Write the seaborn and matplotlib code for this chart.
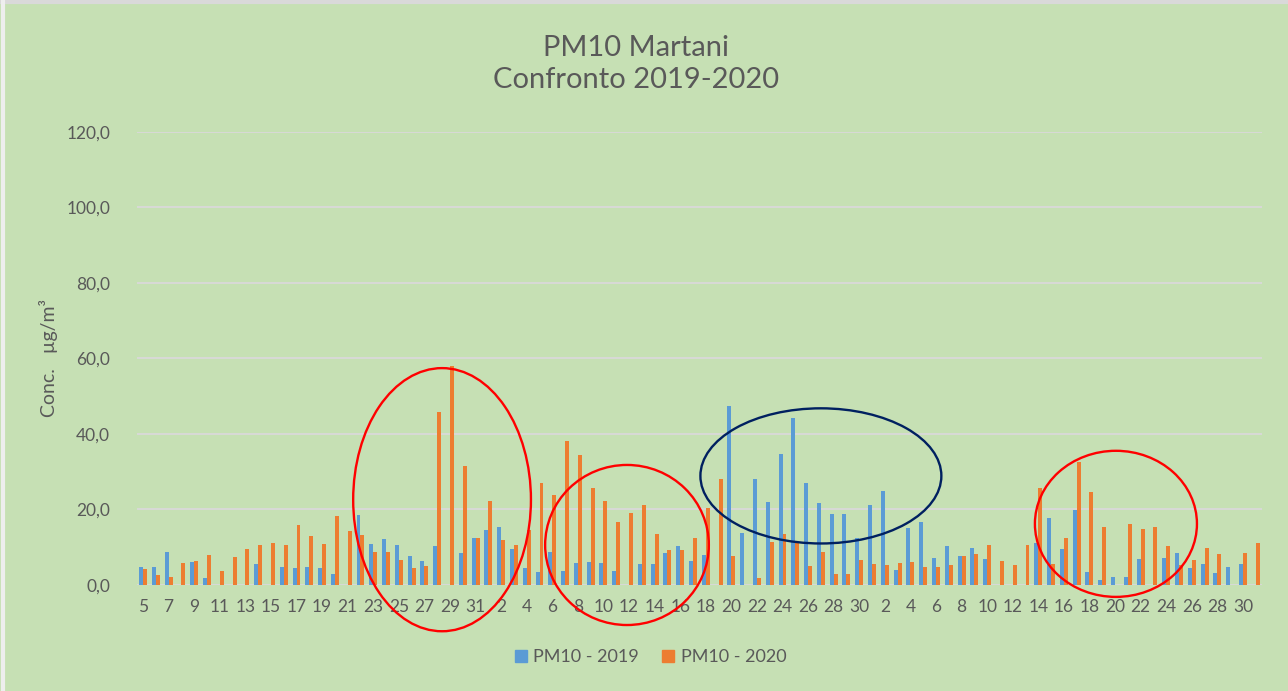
import numpy as np
import pandas as pd
import matplotlib
matplotlib.use("Agg")
import matplotlib.pyplot as plt
from matplotlib.patches import Ellipse
from matplotlib.lines import Line2D
import seaborn as sns

# Daily PM10 values (µg/m3), 5 March - 31 May; nan = no data
dates = pd.date_range("2020-03-05", "2020-05-31", freq="D")

pm10_2019 = [
    4.8, 4.8, 8.8, np.nan, 6.0, 1.9, np.nan, np.nan, np.nan, 5.6, np.nan, 4.7, 4.4, 4.7, 4.5,
    2.8, np.nan, 18.5, 10.9, 12.2, 10.5, 7.8, 6.3, 10.3, np.nan, 8.4, 12.5,
    # April
    14.6, 15.4, 9.5, 4.6, 3.4, 8.7, 3.8, 5.9, 6.2, 5.8, 3.8, np.nan, 5.5, 5.5, 8.5,
    10.2, 6.4, 8.0, np.nan, 47.4, 13.8, 28.0, 22.0, 34.8, 44.3, 26.9, 21.6, 18.7, 18.8, 12.4,
    # May
    21.2, 24.9, 3.9, 15.1, 16.6, 7.2, 10.4, 7.8, 9.8, 6.8, np.nan, np.nan, np.nan, 11.0, 17.8,
    9.5, 19.9, 3.5, 1.3, 2.0, 2.0, 7.0, np.nan, 7.1, 8.5, 4.6, 5.6, 3.1, 4.7, 5.6, np.nan,
]
pm10_2020 = [
    4.3, 2.7, 2.1, 5.9, 6.3, 8.0, 3.8, 7.4, 9.6, 10.7, 11.2, 10.7, 16.0, 13.1, 10.9,
    18.3, 14.2, 13.3, 8.7, 8.7, 6.6, 4.4, 5.0, 45.8, 58.0, 31.6, 12.4,
    # April
    22.3, 12.0, 10.7, 14.6, 27.0, 23.8, 38.2, 34.4, 25.6, 22.2, 16.6, 19.1, 21.2, 13.6, 9.4,
    9.4, 12.4, 20.4, 28.0, 7.6, np.nan, 1.9, 11.4, 13.6, 11.1, 5.1, 8.7, 2.8, 2.8, 6.7,
    # May
    5.5, 5.3, 5.9, 6.2, 4.9, 4.8, 5.4, 7.8, 8.1, 10.7, 6.4, 5.4, 10.5, 25.7, 5.5,
    12.5, 32.5, 24.7, 15.4, np.nan, 16.1, 14.8, 15.4, 10.2, 5.3, 6.6, 9.9, 8.3, np.nan, 8.4, 11.2,
]
series = ["PM10 - 2019", "PM10 - 2020"]
colors = ["#5B9BD5", "#ED7D31"]

bg = "#C6E0B4"
txt = "#595959"
grid = "#D9D9D9"

days = [d.strftime("%Y-%m-%d") for d in dates]
df = pd.DataFrame({"data": days, series[0]: pm10_2019, series[1]: pm10_2020})
df = df.melt(id_vars="data", var_name="serie", value_name="conc").dropna()

plt.rcParams["font.family"] = ["Lato", "DejaVu Sans"]

fig = plt.figure(figsize=(12.88, 6.91), dpi=100, facecolor=bg)
ax = fig.add_axes([0.1061, 0.1534, 0.8738, 0.6556])
ax.set_facecolor(bg)

sns.barplot(data=df, x="data", y="conc", hue="serie", order=days, hue_order=series,
            palette=colors, saturation=1, width=0.62, linewidth=0, legend=False, ax=ax, zorder=3)

ax.set_ylim(0, 120)
ax.set_xlim(-0.5, len(days) - 0.5)
ax.set_yticks(np.arange(0, 121, 20))
ax.set_yticklabels([f"{v:.1f}".replace(".", ",") for v in np.arange(0, 121, 20)])
idx = np.arange(0, len(days), 2)
ax.set_xticks(idx)
ax.set_xticklabels([str(dates[i].day) for i in idx])
ax.tick_params(axis="both", length=0, labelsize=12.5, colors=txt)
ax.tick_params(axis="y", pad=19)
ax.tick_params(axis="x", pad=10)
ax.grid(axis="y", color=grid, lw=1.3, zorder=0)
ax.set_axisbelow(True)
for s in ax.spines.values():
    s.set_visible(False)
ax.set_xlabel("")
ax.set_ylabel("")

fig.text(48 / 1288, 1 - 358 / 691, "Conc.   µg/m³", rotation=90, ha="center", va="center",
         fontsize=14, color=txt)
fig.text(636 / 1288, 1 - 64 / 691, "PM10 Martani\nConfronto 2019-2020", ha="center", va="center",
         fontsize=21, color=txt, linespacing=1.3)

# highlighted periods
rings = [
    (23.38, 22.6, 13.9, 69.7, "#FF0000"),
    (37.84, 10.6, 12.8, 42.4, "#FF0000"),
    (53.0, 28.9, 18.84, 35.8, "#002060"),
    (76.07, 16.2, 12.67, 38.7, "#FF0000"),
]
for cx, cy, w, h, c in rings:
    ax.add_patch(Ellipse((cx, cy), w, h, fill=False, edgecolor=c, lw=1.7, zorder=5, clip_on=False))

handles = [Line2D([], [], marker="s", ls="", color=c, markersize=8) for c in colors]
fig.legend(handles, series, loc="center", bbox_to_anchor=(650 / 1288, 1 - 657 / 691), ncol=2,
           frameon=False, fontsize=13, labelcolor=txt, handlelength=0.8, handletextpad=0.3,
           columnspacing=1.2)

fig.add_artist(Line2D([0, 1], [0.997, 0.997], color="#D9D9D9", lw=3, transform=fig.transFigure))
fig.add_artist(Line2D([0.002, 0.002], [0, 1], color="#EEEEEE", lw=3, transform=fig.transFigure))

fig.savefig("out.png", dpi=100, facecolor=bg)
